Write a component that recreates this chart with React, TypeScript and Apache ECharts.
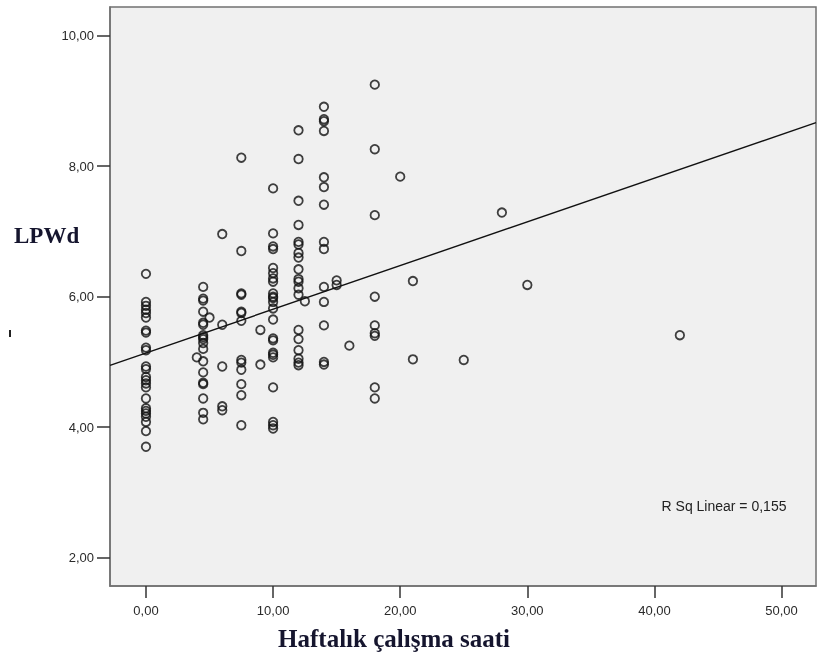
import React, { useEffect, useRef } from "react";
import * as echarts from "echarts";

// Weekly working hours (x groups) and LPWd values observed at each
const HOURS = [0, 4, 4.5, 5, 6, 7.5, 9, 10, 12, 12.5, 14, 15, 16, 18, 20, 21, 25, 28, 30, 42];
const LPWD_BY_HOURS: number[][] = [
  [6.35, 5.92, 5.86, 5.8, 5.75, 5.68, 5.48, 5.45, 5.22, 5.18, 4.93, 4.89, 4.77, 4.72, 4.67, 4.61, 4.44, 4.29, 4.25, 4.21, 4.16, 4.08, 3.94, 3.7],
  [5.07],
  [6.15, 5.97, 5.94, 5.77, 5.6, 5.57, 5.41, 5.38, 5.35, 5.29, 5.2, 5.01, 4.84, 4.68, 4.66, 4.44, 4.22, 4.12],
  [5.68],
  [6.96, 5.57, 4.93, 4.32, 4.26],
  [8.13, 6.7, 6.05, 6.03, 5.77, 5.75, 5.63, 5.03, 4.99, 4.88, 4.66, 4.49, 4.03],
  [5.49, 4.96],
  [7.66, 6.97, 6.77, 6.73, 6.44, 6.36, 6.28, 6.23, 6.05, 6.0, 5.98, 5.92, 5.82, 5.65, 5.36, 5.33, 5.14, 5.11, 5.07, 4.61, 4.08, 4.03, 3.98],
  [8.55, 8.11, 7.47, 7.1, 6.84, 6.8, 6.67, 6.6, 6.42, 6.27, 6.23, 6.13, 6.03, 5.49, 5.35, 5.18, 5.05, 4.99, 4.95],
  [5.93],
  [8.91, 8.72, 8.69, 8.54, 7.83, 7.68, 7.41, 6.84, 6.73, 6.15, 5.92, 5.56, 5.0, 4.96],
  [6.25, 6.18],
  [5.25],
  [9.25, 8.26, 7.25, 6.0, 5.56, 5.44, 5.4, 4.61, 4.44],
  [7.84],
  [6.24, 5.04],
  [5.03],
  [7.29],
  [6.18],
  [5.41],
];

const X_TICKS = [0, 10, 20, 30, 40, 50];
const Y_TICKS = [2, 4, 6, 8, 10];
const X_RANGE = [-2.83, 52.71];
const Y_RANGE = [1.566, 10.44];

// Linear fit shown in the reference
const FIT_INTERCEPT = 5.137;
const FIT_SLOPE = 0.067;
const R_SQ_LABEL = "R Sq Linear = 0,155";
const X_TITLE = "Haftalık çalışma saati";
const Y_TITLE = "LPWd";

const fmt = (v: number) => v.toFixed(2).replace(".", ",");

export default function App() {
  const ref = useRef<HTMLDivElement>(null);

  useEffect(() => {
    if (!ref.current) return;
    const chart = echarts.init(ref.current, null, { renderer: "svg" });

    const points: number[][] = [];
    HOURS.forEach((h, i) => {
      LPWD_BY_HOURS[i].forEach((v) => points.push([h, v]));
    });
    const fitLine = X_RANGE.map((x) => [x, FIT_INTERCEPT + FIT_SLOPE * x]);

    const tickLabelStyle = {
      color: "#2a2a2a",
      fontFamily: "Liberation Sans, Arial, sans-serif",
      fontSize: 13,
    };

    chart.setOption({
      animation: false,
      grid: {
        left: 110,
        right: 3,
        top: 7,
        bottom: 71,
        show: true,
        backgroundColor: "#f0f0f0",
        borderColor: "#707070",
        borderWidth: 1.5,
      },
      xAxis: {
        type: "value",
        min: X_RANGE[0],
        max: X_RANGE[1],
        splitLine: { show: false },
        axisLine: { show: true, onZero: false, lineStyle: { color: "#707070", width: 1.5 } },
        axisTick: {
          show: true,
          length: 12,
          customValues: X_TICKS,
          lineStyle: { color: "#333", width: 1.5 },
        },
        axisLabel: {
          ...tickLabelStyle,
          margin: 18,
          customValues: X_TICKS,
          formatter: (v: number) => fmt(v),
        },
      },
      yAxis: {
        type: "value",
        min: Y_RANGE[0],
        max: Y_RANGE[1],
        splitLine: { show: false },
        axisLine: { show: true, onZero: false, lineStyle: { color: "#707070", width: 1.5 } },
        axisTick: {
          show: true,
          length: 13,
          customValues: Y_TICKS,
          lineStyle: { color: "#333", width: 1.5 },
        },
        axisLabel: {
          ...tickLabelStyle,
          margin: 16,
          customValues: Y_TICKS,
          formatter: (v: number) => fmt(v),
        },
      },
      series: [
        {
          type: "line",
          data: fitLine,
          symbol: "none",
          lineStyle: { color: "#111", width: 1.4 },
          silent: true,
          z: 1,
        },
        {
          type: "scatter",
          data: points,
          symbol: "circle",
          symbolSize: 8.5,
          itemStyle: {
            color: "rgba(0,0,0,0)",
            borderColor: "#111",
            borderWidth: 1.8,
          },
          z: 2,
        },
      ],
      graphic: [
        {
          type: "text",
          left: 14,
          top: 224,
          style: {
            text: Y_TITLE,
            fill: "#15152e",
            font: "bold 23px 'Liberation Serif', 'Times New Roman', serif",
          },
        },
        {
          type: "text",
          x: 394,
          y: 638,
          style: {
            text: X_TITLE,
            fill: "#15152e",
            textAlign: "center",
            textVerticalAlign: "middle",
            font: "bold 25px 'Liberation Serif', 'Times New Roman', serif",
          },
        },
        {
          type: "text",
          x: 724,
          y: 506,
          style: {
            text: R_SQ_LABEL,
            fill: "#222",
            textAlign: "center",
            textVerticalAlign: "middle",
            font: "14px 'Liberation Sans', Arial, sans-serif",
          },
        },
        {
          type: "rect",
          shape: { x: 9, y: 330, width: 2, height: 7 },
          style: { fill: "#222" },
        },
      ],
    });

    return () => chart.dispose();
  }, []);

  return (
    <div
      ref={ref}
      style={{ position: "fixed", left: 0, top: 0, width: 819, height: 657 }}
    />
  );
}
